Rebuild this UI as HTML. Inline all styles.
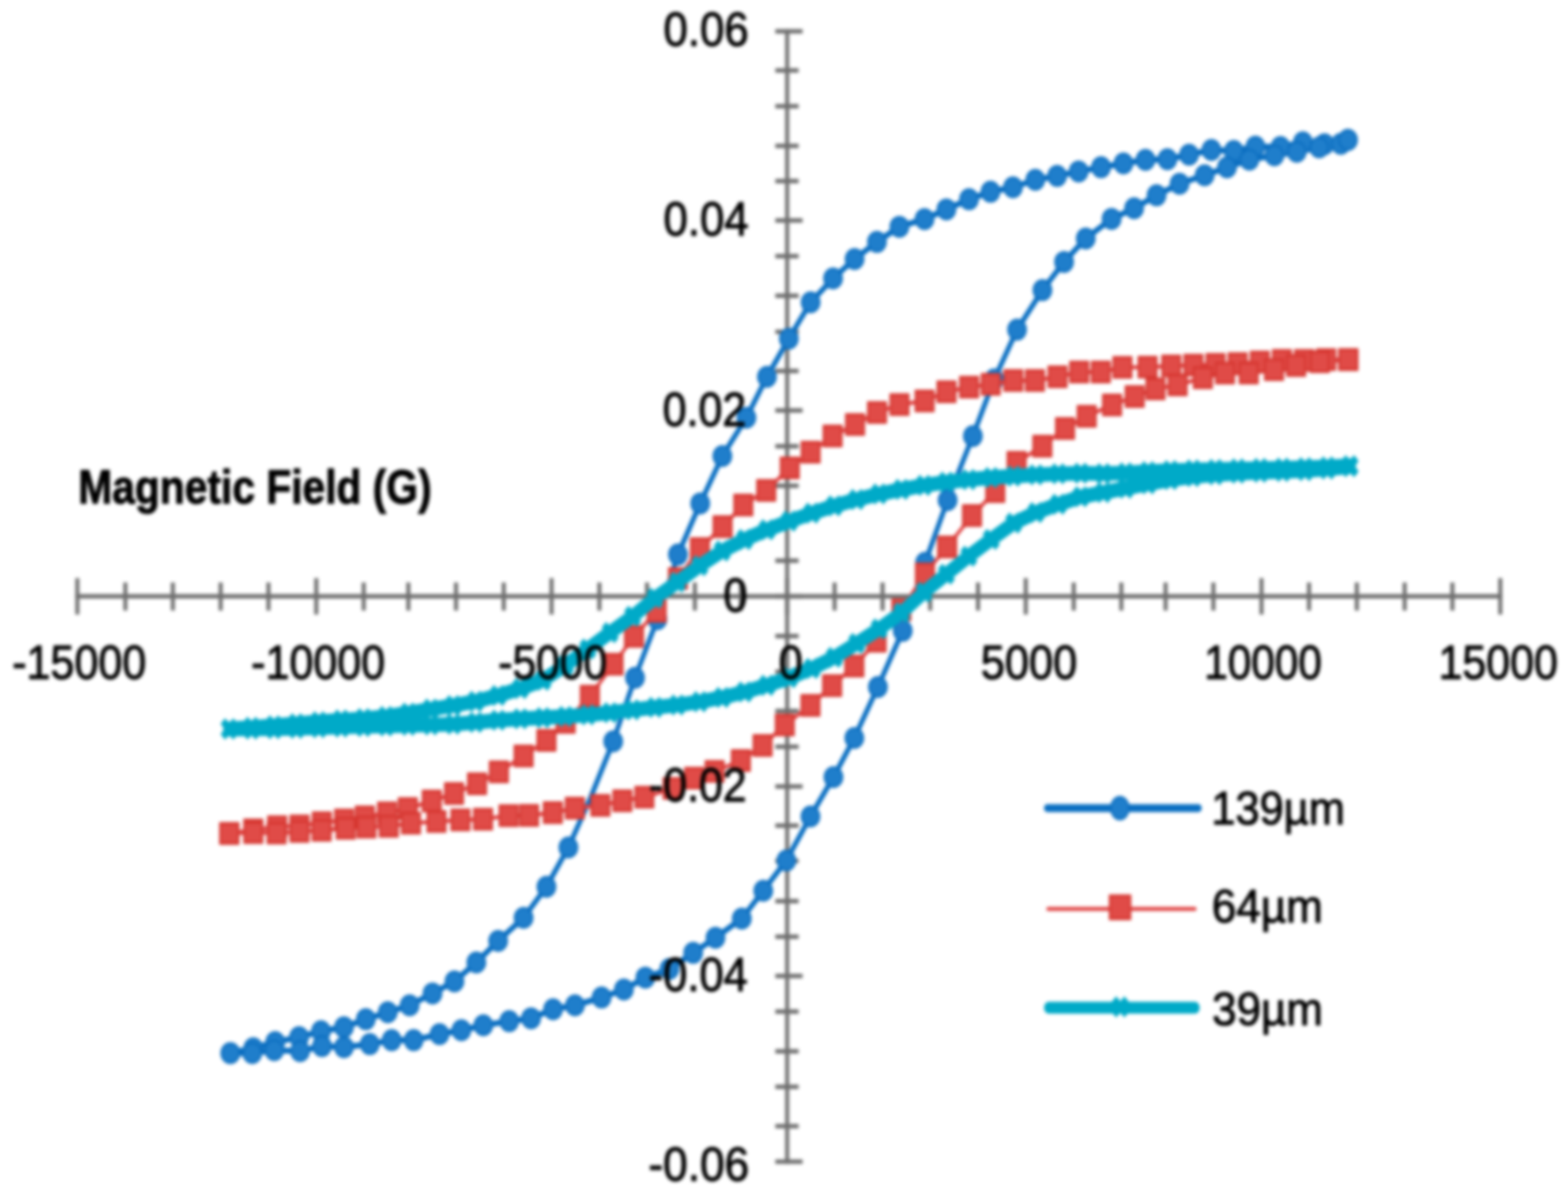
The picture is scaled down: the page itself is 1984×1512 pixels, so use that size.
<!DOCTYPE html><html><head><meta charset="utf-8"><title>Magnetic hysteresis chart</title><style>html,body{margin:0;padding:0;background:#fff;}svg{display:block;filter:blur(2.0px);}text{font-family:"Liberation Sans",Arial,sans-serif;fill:#000;stroke:#000;stroke-width:2.0px;}</style></head><body>
<svg width="1984" height="1512" viewBox="0 0 1984 1512">
<rect width="1984" height="1512" fill="#fff"/>
<g fill="#6f6f6f">
<rect x="993.50" y="36.85" width="5.0" height="1435.70"/>
<rect x="95.40" y="751.75" width="1805.40" height="5.5"/>
<rect x="95.40" y="731.5" width="5.0" height="46.0"/>
<rect x="156.10" y="737" width="5.0" height="35.5"/>
<rect x="216.20" y="737" width="5.0" height="35.5"/>
<rect x="276.70" y="737" width="5.0" height="35.5"/>
<rect x="337.20" y="737" width="5.0" height="35.5"/>
<rect x="397.70" y="731.5" width="5.0" height="46.0"/>
<rect x="457.70" y="737" width="5.0" height="35.5"/>
<rect x="514.20" y="737" width="5.0" height="35.5"/>
<rect x="574.50" y="737" width="5.0" height="35.5"/>
<rect x="634.90" y="737" width="5.0" height="35.5"/>
<rect x="695.40" y="731.5" width="5.0" height="46.0"/>
<rect x="755.90" y="737" width="5.0" height="35.5"/>
<rect x="816.20" y="737" width="5.0" height="35.5"/>
<rect x="876.70" y="737" width="5.0" height="35.5"/>
<rect x="935.00" y="737" width="5.0" height="35.5"/>
<rect x="993.50" y="731.5" width="5.0" height="46.0"/>
<rect x="1053.50" y="737" width="5.0" height="35.5"/>
<rect x="1114.20" y="737" width="5.0" height="35.5"/>
<rect x="1174.50" y="737" width="5.0" height="35.5"/>
<rect x="1235.00" y="737" width="5.0" height="35.5"/>
<rect x="1295.40" y="731.5" width="5.0" height="46.0"/>
<rect x="1356.10" y="737" width="5.0" height="35.5"/>
<rect x="1416.30" y="737" width="5.0" height="35.5"/>
<rect x="1472.30" y="737" width="5.0" height="35.5"/>
<rect x="1532.80" y="737" width="5.0" height="35.5"/>
<rect x="1593.70" y="731.5" width="5.0" height="46.0"/>
<rect x="1653.80" y="737" width="5.0" height="35.5"/>
<rect x="1714.30" y="737" width="5.0" height="35.5"/>
<rect x="1774.80" y="737" width="5.0" height="35.5"/>
<rect x="1835.20" y="737" width="5.0" height="35.5"/>
<rect x="1895.80" y="731.5" width="5.0" height="46.0"/>
<rect x="981" y="36.85" width="34.5" height="5.5"/>
<rect x="981" y="86.35" width="29.5" height="5.5"/>
<rect x="981" y="131.65" width="29.5" height="5.5"/>
<rect x="981" y="181.85" width="29.5" height="5.5"/>
<rect x="981" y="226.35" width="29.5" height="5.5"/>
<rect x="981" y="276.15" width="34.5" height="5.5"/>
<rect x="981" y="321.35" width="29.5" height="5.5"/>
<rect x="981" y="371.45" width="29.5" height="5.5"/>
<rect x="981" y="417.05" width="29.5" height="5.5"/>
<rect x="981" y="466.65" width="29.5" height="5.5"/>
<rect x="981" y="516.55" width="34.5" height="5.5"/>
<rect x="981" y="561.85" width="29.5" height="5.5"/>
<rect x="981" y="611.85" width="29.5" height="5.5"/>
<rect x="981" y="656.85" width="29.5" height="5.5"/>
<rect x="981" y="706.65" width="29.5" height="5.5"/>
<rect x="981" y="751.75" width="34.5" height="5.5"/>
<rect x="981" y="802.05" width="29.5" height="5.5"/>
<rect x="981" y="847.05" width="29.5" height="5.5"/>
<rect x="981" y="896.85" width="29.5" height="5.5"/>
<rect x="981" y="942.05" width="29.5" height="5.5"/>
<rect x="981" y="992.35" width="34.5" height="5.5"/>
<rect x="981" y="1041.85" width="29.5" height="5.5"/>
<rect x="981" y="1086.55" width="29.5" height="5.5"/>
<rect x="981" y="1137.45" width="29.5" height="5.5"/>
<rect x="981" y="1182.45" width="29.5" height="5.5"/>
<rect x="981" y="1232.15" width="34.5" height="5.5"/>
<rect x="981" y="1277.15" width="29.5" height="5.5"/>
<rect x="981" y="1327.45" width="29.5" height="5.5"/>
<rect x="981" y="1372.35" width="29.5" height="5.5"/>
<rect x="981" y="1422.15" width="29.5" height="5.5"/>
<rect x="981" y="1467.05" width="34.5" height="5.5"/>
</g>
<g transform="scale(4.0,5.0)">
<polyline points="72.875,266.500 80.125,265.240 87.050,263.720 94.600,262.460 101.550,260.940 108.800,259.940 115.725,257.920 122.650,256.160 129.575,254.400 136.825,251.380 143.750,248.340 150.675,243.560 157.575,238.100 165.625,232.260 172.850,224.400 179.800,214.440 186.750,202.000 193.975,187.600 200.875,171.500 207.950,156.700 214.450,140.320 221.500,127.380 228.500,115.400 236.100,105.700 242.600,95.340 249.525,85.700 256.425,76.500 263.525,70.460 270.325,65.540 277.400,61.220 284.500,57.380 292.450,55.440 299.375,52.980 306.525,50.420 313.325,48.520 320.425,47.400 327.500,45.500 334.400,44.520 341.200,43.380 348.300,42.320 355.375,41.340 362.350,40.460 369.275,40.300 376.125,39.140 383.200,37.940 390.275,38.200 397.125,37.100 405.050,37.200 412.125,36.000 418.975,36.500 426.375,35.400" fill="none" stroke="#0a6fc2" stroke-width="1.5" stroke-linejoin="round"/>
<polyline points="72.875,266.500 79.800,266.500 86.750,265.740 94.925,266.000 101.850,264.720 108.800,264.980 116.975,264.220 123.900,263.220 130.850,263.220 139.025,261.700 145.950,260.700 152.900,259.440 161.075,258.420 168.000,257.680 174.950,255.400 181.875,254.400 190.300,252.420 197.350,250.400 204.150,247.380 211.750,245.200 219.275,241.120 226.325,237.300 234.650,232.460 241.450,225.400 248.750,217.740 256.375,206.600 263.650,196.660 270.250,186.740 277.700,173.840 285.550,159.620 292.625,142.400 299.750,126.540 307.750,110.340 314.500,96.000 321.725,83.420 329.750,73.420 336.600,66.280 343.450,60.340 351.625,55.380 358.750,52.700 365.850,49.420 373.125,46.500 381.050,44.340 388.125,42.360 395.200,40.400 403.125,39.300 410.200,38.400 417.275,37.300 424.125,36.400 426.375,35.400" fill="none" stroke="#0a6fc2" stroke-width="1.5" stroke-linejoin="round"/>
<g fill="#1f7ecb" stroke="#0b6dbf" stroke-width="0.5">
<ellipse cx="72.875" cy="266.500" rx="2.85" ry="2.5"/>
<ellipse cx="80.125" cy="265.240" rx="2.85" ry="2.5"/>
<ellipse cx="87.050" cy="263.720" rx="2.85" ry="2.5"/>
<ellipse cx="94.600" cy="262.460" rx="2.85" ry="2.5"/>
<ellipse cx="101.550" cy="260.940" rx="2.85" ry="2.5"/>
<ellipse cx="108.800" cy="259.940" rx="2.85" ry="2.5"/>
<ellipse cx="115.725" cy="257.920" rx="2.85" ry="2.5"/>
<ellipse cx="122.650" cy="256.160" rx="2.85" ry="2.5"/>
<ellipse cx="129.575" cy="254.400" rx="2.85" ry="2.5"/>
<ellipse cx="136.825" cy="251.380" rx="2.85" ry="2.5"/>
<ellipse cx="143.750" cy="248.340" rx="2.85" ry="2.5"/>
<ellipse cx="150.675" cy="243.560" rx="2.85" ry="2.5"/>
<ellipse cx="157.575" cy="238.100" rx="2.85" ry="2.5"/>
<ellipse cx="165.625" cy="232.260" rx="2.85" ry="2.5"/>
<ellipse cx="172.850" cy="224.400" rx="2.85" ry="2.5"/>
<ellipse cx="179.800" cy="214.440" rx="2.85" ry="2.5"/>
<ellipse cx="193.975" cy="187.600" rx="2.85" ry="2.5"/>
<ellipse cx="200.875" cy="171.500" rx="2.85" ry="2.5"/>
<ellipse cx="207.950" cy="156.700" rx="2.85" ry="2.5"/>
<ellipse cx="214.450" cy="140.320" rx="2.85" ry="2.5"/>
<ellipse cx="221.500" cy="127.380" rx="2.85" ry="2.5"/>
<ellipse cx="228.500" cy="115.400" rx="2.85" ry="2.5"/>
<ellipse cx="236.100" cy="105.700" rx="2.85" ry="2.5"/>
<ellipse cx="242.600" cy="95.340" rx="2.85" ry="2.5"/>
<ellipse cx="249.525" cy="85.700" rx="2.85" ry="2.5"/>
<ellipse cx="256.425" cy="76.500" rx="2.85" ry="2.5"/>
<ellipse cx="263.525" cy="70.460" rx="2.85" ry="2.5"/>
<ellipse cx="270.325" cy="65.540" rx="2.85" ry="2.5"/>
<ellipse cx="277.400" cy="61.220" rx="2.85" ry="2.5"/>
<ellipse cx="284.500" cy="57.380" rx="2.85" ry="2.5"/>
<ellipse cx="292.450" cy="55.440" rx="2.85" ry="2.5"/>
<ellipse cx="299.375" cy="52.980" rx="2.85" ry="2.5"/>
<ellipse cx="306.525" cy="50.420" rx="2.85" ry="2.5"/>
<ellipse cx="313.325" cy="48.520" rx="2.85" ry="2.5"/>
<ellipse cx="320.425" cy="47.400" rx="2.85" ry="2.5"/>
<ellipse cx="327.500" cy="45.500" rx="2.85" ry="2.5"/>
<ellipse cx="334.400" cy="44.520" rx="2.85" ry="2.5"/>
<ellipse cx="341.200" cy="43.380" rx="2.85" ry="2.5"/>
<ellipse cx="348.300" cy="42.320" rx="2.85" ry="2.5"/>
<ellipse cx="355.375" cy="41.340" rx="2.85" ry="2.5"/>
<ellipse cx="362.350" cy="40.460" rx="2.85" ry="2.5"/>
<ellipse cx="369.275" cy="40.300" rx="2.85" ry="2.5"/>
<ellipse cx="376.125" cy="39.140" rx="2.85" ry="2.5"/>
<ellipse cx="383.200" cy="37.940" rx="2.85" ry="2.5"/>
<ellipse cx="390.275" cy="38.200" rx="2.85" ry="2.5"/>
<ellipse cx="397.125" cy="37.100" rx="2.85" ry="2.5"/>
<ellipse cx="405.050" cy="37.200" rx="2.85" ry="2.5"/>
<ellipse cx="412.125" cy="36.000" rx="2.85" ry="2.5"/>
<ellipse cx="418.975" cy="36.500" rx="2.85" ry="2.5"/>
<ellipse cx="426.375" cy="35.400" rx="2.85" ry="2.5"/>
<ellipse cx="72.875" cy="266.500" rx="2.85" ry="2.5"/>
<ellipse cx="79.800" cy="266.500" rx="2.85" ry="2.5"/>
<ellipse cx="86.750" cy="265.740" rx="2.85" ry="2.5"/>
<ellipse cx="94.925" cy="266.000" rx="2.85" ry="2.5"/>
<ellipse cx="101.850" cy="264.720" rx="2.85" ry="2.5"/>
<ellipse cx="108.800" cy="264.980" rx="2.85" ry="2.5"/>
<ellipse cx="116.975" cy="264.220" rx="2.85" ry="2.5"/>
<ellipse cx="123.900" cy="263.220" rx="2.85" ry="2.5"/>
<ellipse cx="130.850" cy="263.220" rx="2.85" ry="2.5"/>
<ellipse cx="139.025" cy="261.700" rx="2.85" ry="2.5"/>
<ellipse cx="145.950" cy="260.700" rx="2.85" ry="2.5"/>
<ellipse cx="152.900" cy="259.440" rx="2.85" ry="2.5"/>
<ellipse cx="161.075" cy="258.420" rx="2.85" ry="2.5"/>
<ellipse cx="168.000" cy="257.680" rx="2.85" ry="2.5"/>
<ellipse cx="174.950" cy="255.400" rx="2.85" ry="2.5"/>
<ellipse cx="181.875" cy="254.400" rx="2.85" ry="2.5"/>
<ellipse cx="190.300" cy="252.420" rx="2.85" ry="2.5"/>
<ellipse cx="197.350" cy="250.400" rx="2.85" ry="2.5"/>
<ellipse cx="204.150" cy="247.380" rx="2.85" ry="2.5"/>
<ellipse cx="211.750" cy="245.200" rx="2.85" ry="2.5"/>
<ellipse cx="219.275" cy="241.120" rx="2.85" ry="2.5"/>
<ellipse cx="226.325" cy="237.300" rx="2.85" ry="2.5"/>
<ellipse cx="234.650" cy="232.460" rx="2.85" ry="2.5"/>
<ellipse cx="241.450" cy="225.400" rx="2.85" ry="2.5"/>
<ellipse cx="248.750" cy="217.740" rx="2.85" ry="2.5"/>
<ellipse cx="256.375" cy="206.600" rx="2.85" ry="2.5"/>
<ellipse cx="263.650" cy="196.660" rx="2.85" ry="2.5"/>
<ellipse cx="270.250" cy="186.740" rx="2.85" ry="2.5"/>
<ellipse cx="277.700" cy="173.840" rx="2.85" ry="2.5"/>
<ellipse cx="285.550" cy="159.620" rx="2.85" ry="2.5"/>
<ellipse cx="292.625" cy="142.400" rx="2.85" ry="2.5"/>
<ellipse cx="299.750" cy="126.540" rx="2.85" ry="2.5"/>
<ellipse cx="307.750" cy="110.340" rx="2.85" ry="2.5"/>
<ellipse cx="314.500" cy="96.000" rx="2.85" ry="2.5"/>
<ellipse cx="321.725" cy="83.420" rx="2.85" ry="2.5"/>
<ellipse cx="329.750" cy="73.420" rx="2.85" ry="2.5"/>
<ellipse cx="336.600" cy="66.280" rx="2.85" ry="2.5"/>
<ellipse cx="343.450" cy="60.340" rx="2.85" ry="2.5"/>
<ellipse cx="351.625" cy="55.380" rx="2.85" ry="2.5"/>
<ellipse cx="358.750" cy="52.700" rx="2.85" ry="2.5"/>
<ellipse cx="365.850" cy="49.420" rx="2.85" ry="2.5"/>
<ellipse cx="373.125" cy="46.500" rx="2.85" ry="2.5"/>
<ellipse cx="381.050" cy="44.340" rx="2.85" ry="2.5"/>
<ellipse cx="388.125" cy="42.360" rx="2.85" ry="2.5"/>
<ellipse cx="395.200" cy="40.400" rx="2.85" ry="2.5"/>
<ellipse cx="403.125" cy="39.300" rx="2.85" ry="2.5"/>
<ellipse cx="410.200" cy="38.400" rx="2.85" ry="2.5"/>
<ellipse cx="417.275" cy="37.300" rx="2.85" ry="2.5"/>
<ellipse cx="424.125" cy="36.400" rx="2.85" ry="2.5"/>
<ellipse cx="426.375" cy="35.400" rx="2.85" ry="2.5"/>
</g>
<polyline points="426.500,91.000 419.500,91.000 412.500,91.200 405.500,91.200 398.500,91.600 391.500,92.000 384.500,92.200 377.500,92.400 370.500,92.600 363.000,92.900 355.050,92.960 348.225,94.140 341.375,94.140 334.525,95.340 327.375,96.280 320.525,96.280 313.400,97.240 306.550,97.960 299.400,99.140 292.475,101.460 284.525,102.380 277.425,104.380 270.475,107.420 263.375,110.320 256.425,114.420 249.825,118.400 242.375,124.100 235.125,127.800 228.575,133.260 221.400,138.820 214.450,146.400 207.725,154.740 200.550,161.040 194.075,168.080 186.575,176.160 178.925,182.800 172.850,187.360 165.625,191.300 157.800,195.320 150.900,198.340 143.625,200.800 136.575,202.700 129.000,204.600 122.450,205.700 115.400,206.700 108.850,207.500 101.800,208.200 94.750,209.000 87.675,209.200 80.125,210.000 72.550,210.920" fill="none" stroke="#e04343" stroke-width="1.0" stroke-linejoin="round"/>
<polyline points="72.550,210.920 80.125,210.700 87.500,210.800 94.750,210.400 101.750,210.100 109.350,209.600 115.900,209.300 122.975,209.100 130.000,208.300 138.075,207.880 145.650,207.480 152.800,207.300 160.875,206.400 167.350,206.340 174.875,205.640 181.825,204.500 189.925,203.800 196.875,202.640 203.825,201.720 212.750,199.500 219.575,196.900 226.050,195.200 234.350,192.460 241.225,188.640 248.250,183.460 256.375,178.500 263.225,173.500 270.250,168.540 277.275,162.260 285.125,154.320 292.575,145.200 299.600,138.400 307.475,130.460 314.825,124.400 321.575,117.000 329.725,112.900 336.900,108.420 343.750,105.340 351.775,102.480 358.925,100.340 365.500,98.400 372.500,97.400 380.500,95.600 387.500,94.400 395.000,94.400 403.000,93.540 410.000,92.500 417.500,91.540 426.500,91.000" fill="none" stroke="#e04343" stroke-width="1.0" stroke-linejoin="round"/>
<g fill="#e04b47" stroke="#d5352f" stroke-width="0.6">
<rect x="423.650" y="88.450" width="5.7" height="5.1"/>
<rect x="416.650" y="88.450" width="5.7" height="5.1"/>
<rect x="409.650" y="88.650" width="5.7" height="5.1"/>
<rect x="402.650" y="88.650" width="5.7" height="5.1"/>
<rect x="395.650" y="89.050" width="5.7" height="5.1"/>
<rect x="388.650" y="89.450" width="5.7" height="5.1"/>
<rect x="381.650" y="89.650" width="5.7" height="5.1"/>
<rect x="374.650" y="89.850" width="5.7" height="5.1"/>
<rect x="367.650" y="90.050" width="5.7" height="5.1"/>
<rect x="360.150" y="90.350" width="5.7" height="5.1"/>
<rect x="352.200" y="90.410" width="5.7" height="5.1"/>
<rect x="345.375" y="91.590" width="5.7" height="5.1"/>
<rect x="338.525" y="91.590" width="5.7" height="5.1"/>
<rect x="331.675" y="92.790" width="5.7" height="5.1"/>
<rect x="324.525" y="93.730" width="5.7" height="5.1"/>
<rect x="317.675" y="93.730" width="5.7" height="5.1"/>
<rect x="310.550" y="94.690" width="5.7" height="5.1"/>
<rect x="303.700" y="95.410" width="5.7" height="5.1"/>
<rect x="296.550" y="96.590" width="5.7" height="5.1"/>
<rect x="289.625" y="98.910" width="5.7" height="5.1"/>
<rect x="281.675" y="99.830" width="5.7" height="5.1"/>
<rect x="274.575" y="101.830" width="5.7" height="5.1"/>
<rect x="267.625" y="104.870" width="5.7" height="5.1"/>
<rect x="260.525" y="107.770" width="5.7" height="5.1"/>
<rect x="253.575" y="111.870" width="5.7" height="5.1"/>
<rect x="246.975" y="115.850" width="5.7" height="5.1"/>
<rect x="239.525" y="121.550" width="5.7" height="5.1"/>
<rect x="232.275" y="125.250" width="5.7" height="5.1"/>
<rect x="225.725" y="130.710" width="5.7" height="5.1"/>
<rect x="218.550" y="136.270" width="5.7" height="5.1"/>
<rect x="211.600" y="143.850" width="5.7" height="5.1"/>
<rect x="204.875" y="152.190" width="5.7" height="5.1"/>
<rect x="197.700" y="158.490" width="5.7" height="5.1"/>
<rect x="191.225" y="165.530" width="5.7" height="5.1"/>
<rect x="183.725" y="173.610" width="5.7" height="5.1"/>
<rect x="176.075" y="180.250" width="5.7" height="5.1"/>
<rect x="170.000" y="184.810" width="5.7" height="5.1"/>
<rect x="162.775" y="188.750" width="5.7" height="5.1"/>
<rect x="154.950" y="192.770" width="5.7" height="5.1"/>
<rect x="148.050" y="195.790" width="5.7" height="5.1"/>
<rect x="140.775" y="198.250" width="5.7" height="5.1"/>
<rect x="133.725" y="200.150" width="5.7" height="5.1"/>
<rect x="126.150" y="202.050" width="5.7" height="5.1"/>
<rect x="119.600" y="203.150" width="5.7" height="5.1"/>
<rect x="112.550" y="204.150" width="5.7" height="5.1"/>
<rect x="106.000" y="204.950" width="5.7" height="5.1"/>
<rect x="98.950" y="205.650" width="5.7" height="5.1"/>
<rect x="91.900" y="206.450" width="5.7" height="5.1"/>
<rect x="84.825" y="206.650" width="5.7" height="5.1"/>
<rect x="77.275" y="207.450" width="5.7" height="5.1"/>
<rect x="69.700" y="208.370" width="5.7" height="5.1"/>
<rect x="69.700" y="208.370" width="5.7" height="5.1"/>
<rect x="77.275" y="208.150" width="5.7" height="5.1"/>
<rect x="84.650" y="208.250" width="5.7" height="5.1"/>
<rect x="91.900" y="207.850" width="5.7" height="5.1"/>
<rect x="98.900" y="207.550" width="5.7" height="5.1"/>
<rect x="106.500" y="207.050" width="5.7" height="5.1"/>
<rect x="113.050" y="206.750" width="5.7" height="5.1"/>
<rect x="120.125" y="206.550" width="5.7" height="5.1"/>
<rect x="127.150" y="205.750" width="5.7" height="5.1"/>
<rect x="135.225" y="205.330" width="5.7" height="5.1"/>
<rect x="142.800" y="204.930" width="5.7" height="5.1"/>
<rect x="149.950" y="204.750" width="5.7" height="5.1"/>
<rect x="158.025" y="203.850" width="5.7" height="5.1"/>
<rect x="164.500" y="203.790" width="5.7" height="5.1"/>
<rect x="172.025" y="203.090" width="5.7" height="5.1"/>
<rect x="178.975" y="201.950" width="5.7" height="5.1"/>
<rect x="187.075" y="201.250" width="5.7" height="5.1"/>
<rect x="194.025" y="200.090" width="5.7" height="5.1"/>
<rect x="200.975" y="199.170" width="5.7" height="5.1"/>
<rect x="209.900" y="196.950" width="5.7" height="5.1"/>
<rect x="216.725" y="194.350" width="5.7" height="5.1"/>
<rect x="223.200" y="192.650" width="5.7" height="5.1"/>
<rect x="231.500" y="189.910" width="5.7" height="5.1"/>
<rect x="238.375" y="186.090" width="5.7" height="5.1"/>
<rect x="245.400" y="180.910" width="5.7" height="5.1"/>
<rect x="253.525" y="175.950" width="5.7" height="5.1"/>
<rect x="260.375" y="170.950" width="5.7" height="5.1"/>
<rect x="267.400" y="165.990" width="5.7" height="5.1"/>
<rect x="274.425" y="159.710" width="5.7" height="5.1"/>
<rect x="282.275" y="151.770" width="5.7" height="5.1"/>
<rect x="289.725" y="142.650" width="5.7" height="5.1"/>
<rect x="296.750" y="135.850" width="5.7" height="5.1"/>
<rect x="304.625" y="127.910" width="5.7" height="5.1"/>
<rect x="311.975" y="121.850" width="5.7" height="5.1"/>
<rect x="318.725" y="114.450" width="5.7" height="5.1"/>
<rect x="326.875" y="110.350" width="5.7" height="5.1"/>
<rect x="334.050" y="105.870" width="5.7" height="5.1"/>
<rect x="340.900" y="102.790" width="5.7" height="5.1"/>
<rect x="348.925" y="99.930" width="5.7" height="5.1"/>
<rect x="356.075" y="97.790" width="5.7" height="5.1"/>
<rect x="362.650" y="95.850" width="5.7" height="5.1"/>
<rect x="369.650" y="94.850" width="5.7" height="5.1"/>
<rect x="377.650" y="93.050" width="5.7" height="5.1"/>
<rect x="384.650" y="91.850" width="5.7" height="5.1"/>
<rect x="392.150" y="91.850" width="5.7" height="5.1"/>
<rect x="400.150" y="90.990" width="5.7" height="5.1"/>
<rect x="407.150" y="89.950" width="5.7" height="5.1"/>
<rect x="414.650" y="88.990" width="5.7" height="5.1"/>
<rect x="423.650" y="88.450" width="5.7" height="5.1"/>
</g>
<polyline points="427.000,117.847 419.910,118.153 412.820,118.357 405.730,118.480 398.640,118.576 391.550,118.684 384.460,118.796 377.370,118.925 370.280,119.110 363.190,119.350 356.100,119.683 349.010,119.854 341.920,119.743 334.830,119.886 327.740,120.165 320.650,120.478 313.560,120.869 306.470,121.368 299.380,121.989 292.290,122.830 285.200,123.844 278.110,125.003 271.020,126.407 263.930,128.004 256.840,129.861 249.750,131.872 242.660,134.058 235.570,136.517 228.480,139.417 221.390,143.139 214.300,147.289 207.210,151.370 200.120,155.981 193.030,160.070 185.940,164.240 178.850,168.369 171.760,172.128 164.670,174.229 157.580,175.986 150.490,177.468 143.400,178.541 136.310,179.470 129.220,180.445 122.130,181.333 115.040,181.875 107.950,182.234 100.860,182.645 93.770,183.163 86.680,183.651 79.590,184.072 72.500,184.451" fill="none" stroke="#00aac8" stroke-width="3.7" stroke-linejoin="round" stroke-linecap="round"/>
<polyline points="72.500,184.499 79.590,184.468 86.680,184.408 93.770,184.306 100.860,184.145 107.950,183.970 115.040,183.821 122.130,183.681 129.220,183.543 136.310,183.425 143.400,183.259 150.490,182.812 157.580,182.236 164.670,181.890 171.760,181.623 178.850,181.287 185.940,180.879 193.030,180.344 200.120,179.620 207.210,178.998 214.300,178.403 221.390,177.577 228.480,176.491 235.570,175.104 242.660,173.417 249.750,171.475 256.840,169.147 263.930,166.337 271.020,162.785 278.110,159.138 285.200,155.050 292.290,149.847 299.380,145.312 306.470,140.743 313.560,136.485 320.650,132.378 327.740,129.692 334.830,127.587 341.920,125.705 349.010,124.641 356.100,123.532 363.190,122.417 370.280,121.354 377.370,120.589 384.460,120.116 391.550,119.763 398.640,119.501 405.730,119.308 412.820,119.074 419.910,118.673 427.000,118.090" fill="none" stroke="#00aac8" stroke-width="3.7" stroke-linejoin="round" stroke-linecap="round"/>
<path d="M425.00,115.85L429.00,119.85M429.00,115.85L425.00,119.85M417.91,116.15L421.91,120.15M421.91,116.15L417.91,120.15M410.82,116.36L414.82,120.36M414.82,116.36L410.82,120.36M403.73,116.48L407.73,120.48M407.73,116.48L403.73,120.48M396.64,116.58L400.64,120.58M400.64,116.58L396.64,120.58M389.55,116.68L393.55,120.68M393.55,116.68L389.55,120.68M382.46,116.80L386.46,120.80M386.46,116.80L382.46,120.80M375.37,116.92L379.37,120.92M379.37,116.92L375.37,120.92M368.28,117.11L372.28,121.11M372.28,117.11L368.28,121.11M361.19,117.35L365.19,121.35M365.19,117.35L361.19,121.35M354.10,117.68L358.10,121.68M358.10,117.68L354.10,121.68M347.01,117.85L351.01,121.85M351.01,117.85L347.01,121.85M339.92,117.74L343.92,121.74M343.92,117.74L339.92,121.74M332.83,117.89L336.83,121.89M336.83,117.89L332.83,121.89M325.74,118.16L329.74,122.16M329.74,118.16L325.74,122.16M318.65,118.48L322.65,122.48M322.65,118.48L318.65,122.48M311.56,118.87L315.56,122.87M315.56,118.87L311.56,122.87M304.47,119.37L308.47,123.37M308.47,119.37L304.47,123.37M297.38,119.99L301.38,123.99M301.38,119.99L297.38,123.99M290.29,120.83L294.29,124.83M294.29,120.83L290.29,124.83M283.20,121.84L287.20,125.84M287.20,121.84L283.20,125.84M276.11,123.00L280.11,127.00M280.11,123.00L276.11,127.00M269.02,124.41L273.02,128.41M273.02,124.41L269.02,128.41M261.93,126.00L265.93,130.00M265.93,126.00L261.93,130.00M254.84,127.86L258.84,131.86M258.84,127.86L254.84,131.86M247.75,129.87L251.75,133.87M251.75,129.87L247.75,133.87M240.66,132.06L244.66,136.06M244.66,132.06L240.66,136.06M233.57,134.52L237.57,138.52M237.57,134.52L233.57,138.52M226.48,137.42L230.48,141.42M230.48,137.42L226.48,141.42M219.39,141.14L223.39,145.14M223.39,141.14L219.39,145.14M212.30,145.29L216.30,149.29M216.30,145.29L212.30,149.29M205.21,149.37L209.21,153.37M209.21,149.37L205.21,153.37M198.12,153.98L202.12,157.98M202.12,153.98L198.12,157.98M191.03,158.07L195.03,162.07M195.03,158.07L191.03,162.07M183.94,162.24L187.94,166.24M187.94,162.24L183.94,166.24M176.85,166.37L180.85,170.37M180.85,166.37L176.85,170.37M169.76,170.13L173.76,174.13M173.76,170.13L169.76,174.13M162.67,172.23L166.67,176.23M166.67,172.23L162.67,176.23M155.58,173.99L159.58,177.99M159.58,173.99L155.58,177.99M148.49,175.47L152.49,179.47M152.49,175.47L148.49,179.47M141.40,176.54L145.40,180.54M145.40,176.54L141.40,180.54M134.31,177.47L138.31,181.47M138.31,177.47L134.31,181.47M127.22,178.45L131.22,182.45M131.22,178.45L127.22,182.45M120.13,179.33L124.13,183.33M124.13,179.33L120.13,183.33M113.04,179.88L117.04,183.88M117.04,179.88L113.04,183.88M105.95,180.23L109.95,184.23M109.95,180.23L105.95,184.23M98.86,180.65L102.86,184.65M102.86,180.65L98.86,184.65M91.77,181.16L95.77,185.16M95.77,181.16L91.77,185.16M84.68,181.65L88.68,185.65M88.68,181.65L84.68,185.65M77.59,182.07L81.59,186.07M81.59,182.07L77.59,186.07M70.50,182.45L74.50,186.45M74.50,182.45L70.50,186.45M70.50,182.50L74.50,186.50M74.50,182.50L70.50,186.50M77.59,182.47L81.59,186.47M81.59,182.47L77.59,186.47M84.68,182.41L88.68,186.41M88.68,182.41L84.68,186.41M91.77,182.31L95.77,186.31M95.77,182.31L91.77,186.31M98.86,182.14L102.86,186.14M102.86,182.14L98.86,186.14M105.95,181.97L109.95,185.97M109.95,181.97L105.95,185.97M113.04,181.82L117.04,185.82M117.04,181.82L113.04,185.82M120.13,181.68L124.13,185.68M124.13,181.68L120.13,185.68M127.22,181.54L131.22,185.54M131.22,181.54L127.22,185.54M134.31,181.43L138.31,185.43M138.31,181.43L134.31,185.43M141.40,181.26L145.40,185.26M145.40,181.26L141.40,185.26M148.49,180.81L152.49,184.81M152.49,180.81L148.49,184.81M155.58,180.24L159.58,184.24M159.58,180.24L155.58,184.24M162.67,179.89L166.67,183.89M166.67,179.89L162.67,183.89M169.76,179.62L173.76,183.62M173.76,179.62L169.76,183.62M176.85,179.29L180.85,183.29M180.85,179.29L176.85,183.29M183.94,178.88L187.94,182.88M187.94,178.88L183.94,182.88M191.03,178.34L195.03,182.34M195.03,178.34L191.03,182.34M198.12,177.62L202.12,181.62M202.12,177.62L198.12,181.62M205.21,177.00L209.21,181.00M209.21,177.00L205.21,181.00M212.30,176.40L216.30,180.40M216.30,176.40L212.30,180.40M219.39,175.58L223.39,179.58M223.39,175.58L219.39,179.58M226.48,174.49L230.48,178.49M230.48,174.49L226.48,178.49M233.57,173.10L237.57,177.10M237.57,173.10L233.57,177.10M240.66,171.42L244.66,175.42M244.66,171.42L240.66,175.42M247.75,169.48L251.75,173.48M251.75,169.48L247.75,173.48M254.84,167.15L258.84,171.15M258.84,167.15L254.84,171.15M261.93,164.34L265.93,168.34M265.93,164.34L261.93,168.34M269.02,160.79L273.02,164.79M273.02,160.79L269.02,164.79M276.11,157.14L280.11,161.14M280.11,157.14L276.11,161.14M283.20,153.05L287.20,157.05M287.20,153.05L283.20,157.05M290.29,147.85L294.29,151.85M294.29,147.85L290.29,151.85M297.38,143.31L301.38,147.31M301.38,143.31L297.38,147.31M304.47,138.74L308.47,142.74M308.47,138.74L304.47,142.74M311.56,134.49L315.56,138.49M315.56,134.49L311.56,138.49M318.65,130.38L322.65,134.38M322.65,130.38L318.65,134.38M325.74,127.69L329.74,131.69M329.74,127.69L325.74,131.69M332.83,125.59L336.83,129.59M336.83,125.59L332.83,129.59M339.92,123.71L343.92,127.71M343.92,123.71L339.92,127.71M347.01,122.64L351.01,126.64M351.01,122.64L347.01,126.64M354.10,121.53L358.10,125.53M358.10,121.53L354.10,125.53M361.19,120.42L365.19,124.42M365.19,120.42L361.19,124.42M368.28,119.35L372.28,123.35M372.28,119.35L368.28,123.35M375.37,118.59L379.37,122.59M379.37,118.59L375.37,122.59M382.46,118.12L386.46,122.12M386.46,118.12L382.46,122.12M389.55,117.76L393.55,121.76M393.55,117.76L389.55,121.76M396.64,117.50L400.64,121.50M400.64,117.50L396.64,121.50M403.73,117.31L407.73,121.31M407.73,117.31L403.73,121.31M410.82,117.07L414.82,121.07M414.82,117.07L410.82,121.07M417.91,116.67L421.91,120.67M421.91,116.67L417.91,120.67M425.00,116.09L429.00,120.09M429.00,116.09L425.00,120.09" stroke="#00aac8" stroke-width="2.0" fill="none"/>
<line x1="331.25" y1="204.5" x2="379.125" y2="204.5" stroke="#0a6fc2" stroke-width="2.0" stroke-linecap="round"/>
<ellipse cx="354.25" cy="204.5" rx="2.85" ry="2.85" fill="#1f7ecb" stroke="#0b6dbf" stroke-width="0.5"/>
<line x1="331.5" y1="230.0" x2="378.0" y2="230.0" stroke="#e04343" stroke-width="1.0" stroke-linecap="round"/>
<rect x="351.05" y="226.65" width="6.5" height="5.9" fill="#e04b47" stroke="#d5352f" stroke-width="0.6"/>
<line x1="331.75" y1="255.0" x2="378.0" y2="255.0" stroke="#00aac8" stroke-width="3.0" stroke-linecap="round"/>
<path d="M352.38,252.80L356.38,256.80M356.38,252.80L352.38,256.80" stroke="#00aac8" stroke-width="2.0"/>
</g>
<text transform="matrix(0.5527 0 0 0.6150 839.59 58.12)" font-size="100" font-weight="400">0.06</text>
<text transform="matrix(0.5532 0 0 0.6150 839.59 298.12)" font-size="100" font-weight="400">0.04</text>
<text transform="matrix(0.5430 0 0 0.6150 838.53 538.82)" font-size="100" font-weight="400">0.02</text>
<text transform="matrix(0.5500 0 0 0.6150 915.25 773.82)" font-size="100" font-weight="400">0</text>
<text transform="matrix(0.5416 0 0 0.6150 821.23 1013.82)" font-size="100" font-weight="400">-0.02</text>
<text transform="matrix(0.5502 0 0 0.6150 820.80 1253.62)" font-size="100" font-weight="400">-0.04</text>
<text transform="matrix(0.5594 0 0 0.6150 820.46 1494.12)" font-size="100" font-weight="400">-0.06</text>
<text transform="matrix(0.5449 0 0 0.6150 15.42 858.82)" font-size="100" font-weight="400">-15000</text>
<text transform="matrix(0.5446 0 0 0.6150 317.82 858.82)" font-size="100" font-weight="400">-10000</text>
<text transform="matrix(0.5379 0 0 0.6150 630.55 858.82)" font-size="100" font-weight="400">-5000</text>
<text transform="matrix(0.5500 0 0 0.6150 985.35 858.82)" font-size="100" font-weight="400">0</text>
<text transform="matrix(0.5486 0 0 0.6150 1240.91 858.82)" font-size="100" font-weight="400">5000</text>
<text transform="matrix(0.5357 0 0 0.6150 1523.71 858.82)" font-size="100" font-weight="400">10000</text>
<text transform="matrix(0.5432 0 0 0.6150 1820.15 858.82)" font-size="100" font-weight="400">15000</text>
<text transform="matrix(0.5158 0 0 0.6029 99.09 636.80)" font-size="100" font-weight="700">Magnetic Field (G)</text>
<text transform="matrix(0.5485 0 0 0.6000 1532.81 1043.00)" font-size="100" font-weight="400">139µm</text>
<text transform="matrix(0.5575 0 0 0.6000 1533.21 1166.60)" font-size="100" font-weight="400">64µm</text>
<text transform="matrix(0.5552 0 0 0.6000 1533.78 1297.00)" font-size="100" font-weight="400">39µm</text>
</svg></body></html>
